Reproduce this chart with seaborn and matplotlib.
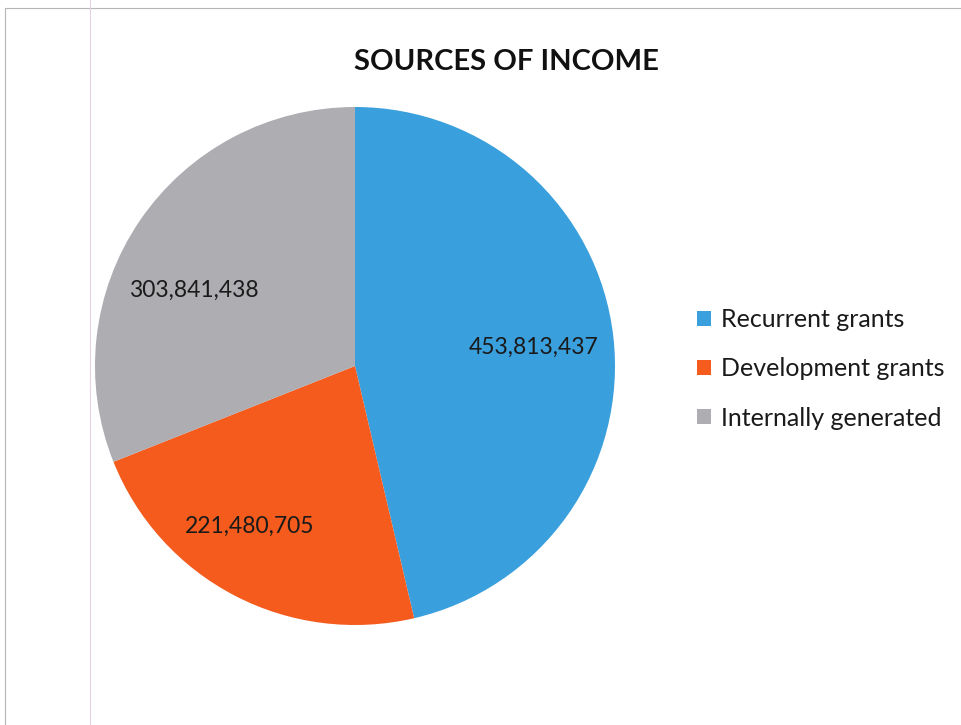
import matplotlib
matplotlib.use("Agg")
import matplotlib.pyplot as plt
import seaborn as sns
from matplotlib.lines import Line2D

categories = ["Recurrent grants", "Development grants", "Internally generated"]
values = [453813437, 221480705, 303841438]
value_labels = ["453,813,437", "221,480,705", "303,841,438"]
colors = ["#3A9FDD", "#F45B1D", "#ADADB2"]

# small label nudges (in axes radius units), mimicking Excel "best fit" placement
label_nudge = [(-0.01, -0.01), (-0.08, 0.0), (-0.04, -0.10)]

sns.set_theme(style="white")
plt.rcParams['font.family'] = ['Lato', 'DejaVu Sans']

fig = plt.figure(figsize=(9.61, 7.25), dpi=100)
fig.patch.set_facecolor("white")

ax = fig.add_axes([95/961, 1 - 625/725, 520/961, 518/725])
wedges, texts = ax.pie(values, labels=value_labels, colors=colors, startangle=90,
                       counterclock=False, labeldistance=0.70,
                       wedgeprops=dict(linewidth=0),
                       textprops=dict(fontsize=16.5, color="#1a1a1a"))
for t, (dx, dy) in zip(texts, label_nudge):
    x, y = t.get_position()
    t.set_position((x + dx, y + dy))
    t.set_ha("center")
    t.set_va("center")
ax.set_xlim(-1, 1)
ax.set_ylim(-1, 1)
ax.set_aspect("auto")
ax.axis("off")

fig.text(506/961, 1 - 62/725, "SOURCES OF INCOME", ha="center", va="center",
         fontsize=21, fontweight="bold", color="#111111")

leg = fig.legend(wedges, categories, loc="center left",
                 bbox_to_anchor=(697/961, 1 - 369/725), frameon=False,
                 fontsize=18, handlelength=0.55, handleheight=0.55,
                 handletextpad=0.4, labelspacing=1.05, borderpad=0, borderaxespad=0)
for t in leg.get_texts():
    t.set_color("#1a1a1a")

fig.add_artist(Line2D([5/961, 1], [1 - 8/725, 1 - 8/725], transform=fig.transFigure,
                      color="#b5b5b5", linewidth=0.8))
fig.add_artist(Line2D([5/961, 5/961], [0, 1 - 8/725], transform=fig.transFigure,
                      color="#b5b5b5", linewidth=0.8))
fig.add_artist(Line2D([90/961, 90/961], [0, 1], transform=fig.transFigure,
                      color="#e3d3e3", linewidth=0.8))

fig.savefig("out.png", dpi=100, facecolor="white")
